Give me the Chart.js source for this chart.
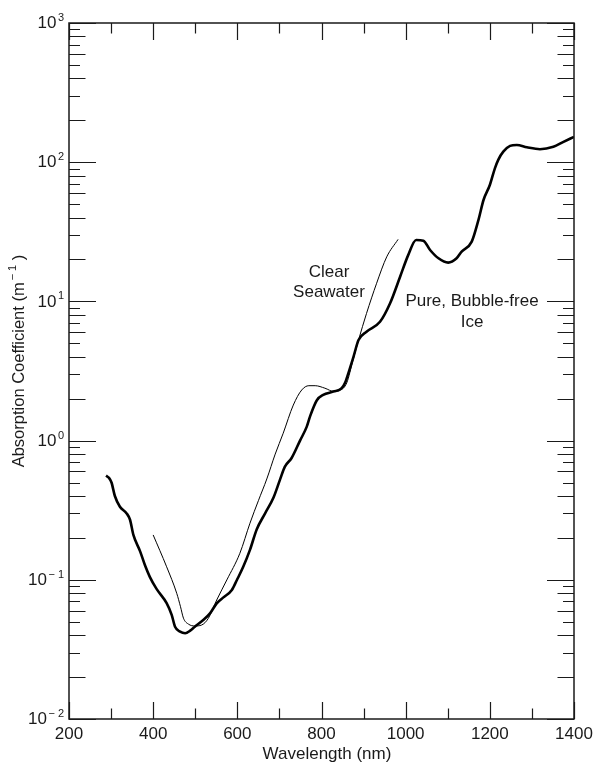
<!DOCTYPE html>
<html>
<head>
<meta charset="utf-8">
<script src="https://cdn.jsdelivr.net/npm/chart.js@4.4.1/dist/chart.umd.min.js"></script>
<style>
  html, body { margin: 0; padding: 0; background: #fff; }
  canvas { display: block; }
</style>
</head>
<body>
<canvas id="c" width="596" height="763"></canvas>
<script>
// ---- Data ----
const iceWavelength = [288, 295, 301, 309, 321, 337, 345, 353, 369, 381, 392, 408, 432, 444, 452, 464, 476, 488, 499, 519, 535, 551, 567, 587, 599, 614, 630, 646, 666, 686, 701, 713, 729, 749, 765, 773, 789, 804, 828, 848, 856, 866, 876, 888, 907, 939, 963, 987, 1006, 1025, 1042, 1058, 1078, 1101, 1121, 1133, 1157, 1173, 1185, 1200, 1212, 1220, 1232, 1248, 1264, 1288, 1319, 1351, 1375, 1400];
const iceAbsorption = [0.56, 0.54, 0.50, 0.40, 0.335, 0.30, 0.27, 0.21, 0.16, 0.126, 0.105, 0.086, 0.068, 0.056, 0.046, 0.0424, 0.0413, 0.0431, 0.046, 0.0514, 0.0574, 0.0678, 0.0748, 0.0845, 0.0997, 0.124, 0.164, 0.23, 0.30, 0.39, 0.52, 0.65, 0.75, 1.0, 1.26, 1.5, 1.95, 2.13, 2.25, 2.38, 2.6, 3.2, 4.0, 5.28, 6.06, 7.14, 9.7, 15.1, 21.5, 27.6, 27.3, 23.4, 20.4, 19.0, 20.4, 22.8, 26.9, 38.5, 53.5, 68.6, 90.3, 104, 119, 131, 133, 128, 124, 129, 140, 152];

const seaWavelength = [400, 432, 456, 465, 472, 484, 499, 515, 531, 551, 575, 606, 630, 650, 670, 690, 709, 733, 753, 770, 785, 808, 830, 845, 860, 875, 888, 907, 931, 955, 982];
const seaAbsorption = [0.21, 0.124, 0.080, 0.064, 0.053, 0.048, 0.0466, 0.0473, 0.0528, 0.0716, 0.0997, 0.155, 0.255, 0.37, 0.53, 0.80, 1.13, 1.8, 2.31, 2.48, 2.48, 2.38, 2.25, 2.3, 2.6, 3.8, 5.28, 8.2, 13.5, 20.9, 27.9];

const xTickValues = [200, 400, 600, 800, 1000, 1200, 1400];
const xTickLabels = ['200', '400', '600', '800', '1000', '1200', '1400'];
const yDecades = [-2, -1, 0, 1, 2, 3];
const yTickBase = '10';

const xTitle = 'Wavelength (nm)';
const yTitleMain = 'Absorption Coefficient (m';
const yTitleSup = '\u2212 1';
const yTitleEnd = ' )';
const seaLabel = ['Clear', 'Seawater'];
const iceLabel = ['Pure, Bubble-free', 'Ice'];

// ---- Styling ----
const FONT = '"Liberation Sans", Arial, Helvetica, sans-serif';
const INK = '#1a1a1a';

const toPts = (xs, ys) => xs.map((x, i) => ({ x: x, y: ys[i] }));

const decorPlugin = {
  id: 'decor',
  afterDraw(chart) {
    const ctx = chart.ctx;
    const xs = chart.scales.x, ys = chart.scales.y;
    const a = chart.chartArea;
    ctx.save();
    // frame
    ctx.strokeStyle = INK;
    ctx.lineWidth = 1.5;
    ctx.strokeRect(a.left, a.top, a.right - a.left, a.bottom - a.top);

    // x ticks (inside, bottom & top)
    ctx.lineWidth = 1.2;
    ctx.beginPath();
    for (let v = 200; v <= 1400; v += 100) {
      const px = Math.round(xs.getPixelForValue(v)) + 0.5;
      const len = (v % 200 === 0) ? 17 : 10.5;
      ctx.moveTo(px, a.bottom); ctx.lineTo(px, a.bottom - len);
      ctx.moveTo(px, a.top); ctx.lineTo(px, a.top + len);
    }
    // y ticks (inside, left & right)
    yDecades.forEach(d => {
      const base = Math.pow(10, d);
      const py = Math.round(ys.getPixelForValue(base)) + 0.5;
      ctx.moveTo(a.left, py); ctx.lineTo(a.left + 27, py);
      ctx.moveTo(a.right, py); ctx.lineTo(a.right - 27, py);
      if (d < 3) {
        for (let m = 2; m <= 9; m++) {
          const p = Math.round(ys.getPixelForValue(m * base)) + 0.5;
          const len = (m % 2 === 0) ? 16.5 : 11;
          ctx.moveTo(a.left, p); ctx.lineTo(a.left + len, p);
          ctx.moveTo(a.right, p); ctx.lineTo(a.right - len, p);
        }
      }
    });
    ctx.stroke();

    ctx.fillStyle = INK;
    // x tick labels
    ctx.font = '17px ' + FONT;
    ctx.textAlign = 'center';
    ctx.textBaseline = 'middle';
    xTickValues.forEach((v, i) => {
      ctx.fillText(xTickLabels[i], xs.getPixelForValue(v), a.bottom + 15);
    });

    // y tick labels 10^d
    yDecades.forEach(d => {
      const py = ys.getPixelForValue(Math.pow(10, d));
      const sup = d < 0 ? '\u2212 ' + Math.abs(d) : String(d);
      ctx.font = '17px ' + FONT;
      const wb = ctx.measureText(yTickBase).width;
      ctx.font = '11px ' + FONT;
      const ws = ctx.measureText(sup).width;
      const right = 64;
      const x0 = right - ws - 1.5 - wb;
      ctx.textAlign = 'left';
      ctx.textBaseline = 'middle';
      ctx.font = '17px ' + FONT;
      ctx.fillText(yTickBase, x0, py + 0.5);
      ctx.textBaseline = 'alphabetic';
      ctx.font = '11px ' + FONT;
      ctx.fillText(sup, x0 + wb + 1.5, py - 2);
    });

    // x title
    ctx.font = '17px ' + FONT;
    ctx.textAlign = 'center';
    ctx.textBaseline = 'middle';
    ctx.fillText(xTitle, 327, 754);

    // y title (rotated)
    ctx.save();
    ctx.translate(19, 361);
    ctx.rotate(-Math.PI / 2);
    ctx.font = '16.5px ' + FONT;
    const w1 = ctx.measureText(yTitleMain).width;
    const w3 = ctx.measureText(yTitleEnd).width;
    ctx.font = '11px ' + FONT;
    const w2 = ctx.measureText(yTitleSup).width;
    const tot = w1 + 2 + w2 + w3;
    let sx = -tot / 2;
    ctx.textAlign = 'left';
    ctx.textBaseline = 'middle';
    ctx.font = '16.5px ' + FONT;
    ctx.fillText(yTitleMain, sx, 0);
    ctx.textBaseline = 'alphabetic';
    ctx.font = '11px ' + FONT;
    ctx.fillText(yTitleSup, sx + w1 + 2, -3);
    ctx.textBaseline = 'middle';
    ctx.font = '16.5px ' + FONT;
    ctx.fillText(yTitleEnd, sx + w1 + 2 + w2, 0);
    ctx.restore();

    // annotations
    ctx.font = '17px ' + FONT;
    ctx.textAlign = 'center';
    ctx.textBaseline = 'middle';
    ctx.fillText(seaLabel[0], 329, 272);
    ctx.fillText(seaLabel[1], 329, 292);
    ctx.fillText(iceLabel[0], 472, 301);
    ctx.fillText(iceLabel[1], 472, 322);
    ctx.restore();
  }
};

new Chart(document.getElementById('c'), {
  type: 'line',
  data: {
    datasets: [
      {
        label: 'Pure, Bubble-free Ice',
        data: toPts(iceWavelength, iceAbsorption),
        borderColor: '#000',
        borderWidth: 2.6,
        pointRadius: 0,
        cubicInterpolationMode: 'monotone',
        fill: false
      },
      {
        label: 'Clear Seawater',
        data: toPts(seaWavelength, seaAbsorption),
        borderColor: '#000',
        borderWidth: 1,
        pointRadius: 0,
        cubicInterpolationMode: 'monotone',
        fill: false
      }
    ]
  },
  options: {
    responsive: false,
    animation: false,
    devicePixelRatio: 1,
    layout: { padding: { left: 69, top: 23, right: 22, bottom: 44 } },
    plugins: { legend: { display: false }, tooltip: { enabled: false } },
    scales: {
      x: { type: 'linear', min: 200, max: 1400, display: false },
      y: { type: 'logarithmic', min: 0.01, max: 1000, display: false }
    }
  },
  plugins: [decorPlugin]
});
</script>
</body>
</html>
